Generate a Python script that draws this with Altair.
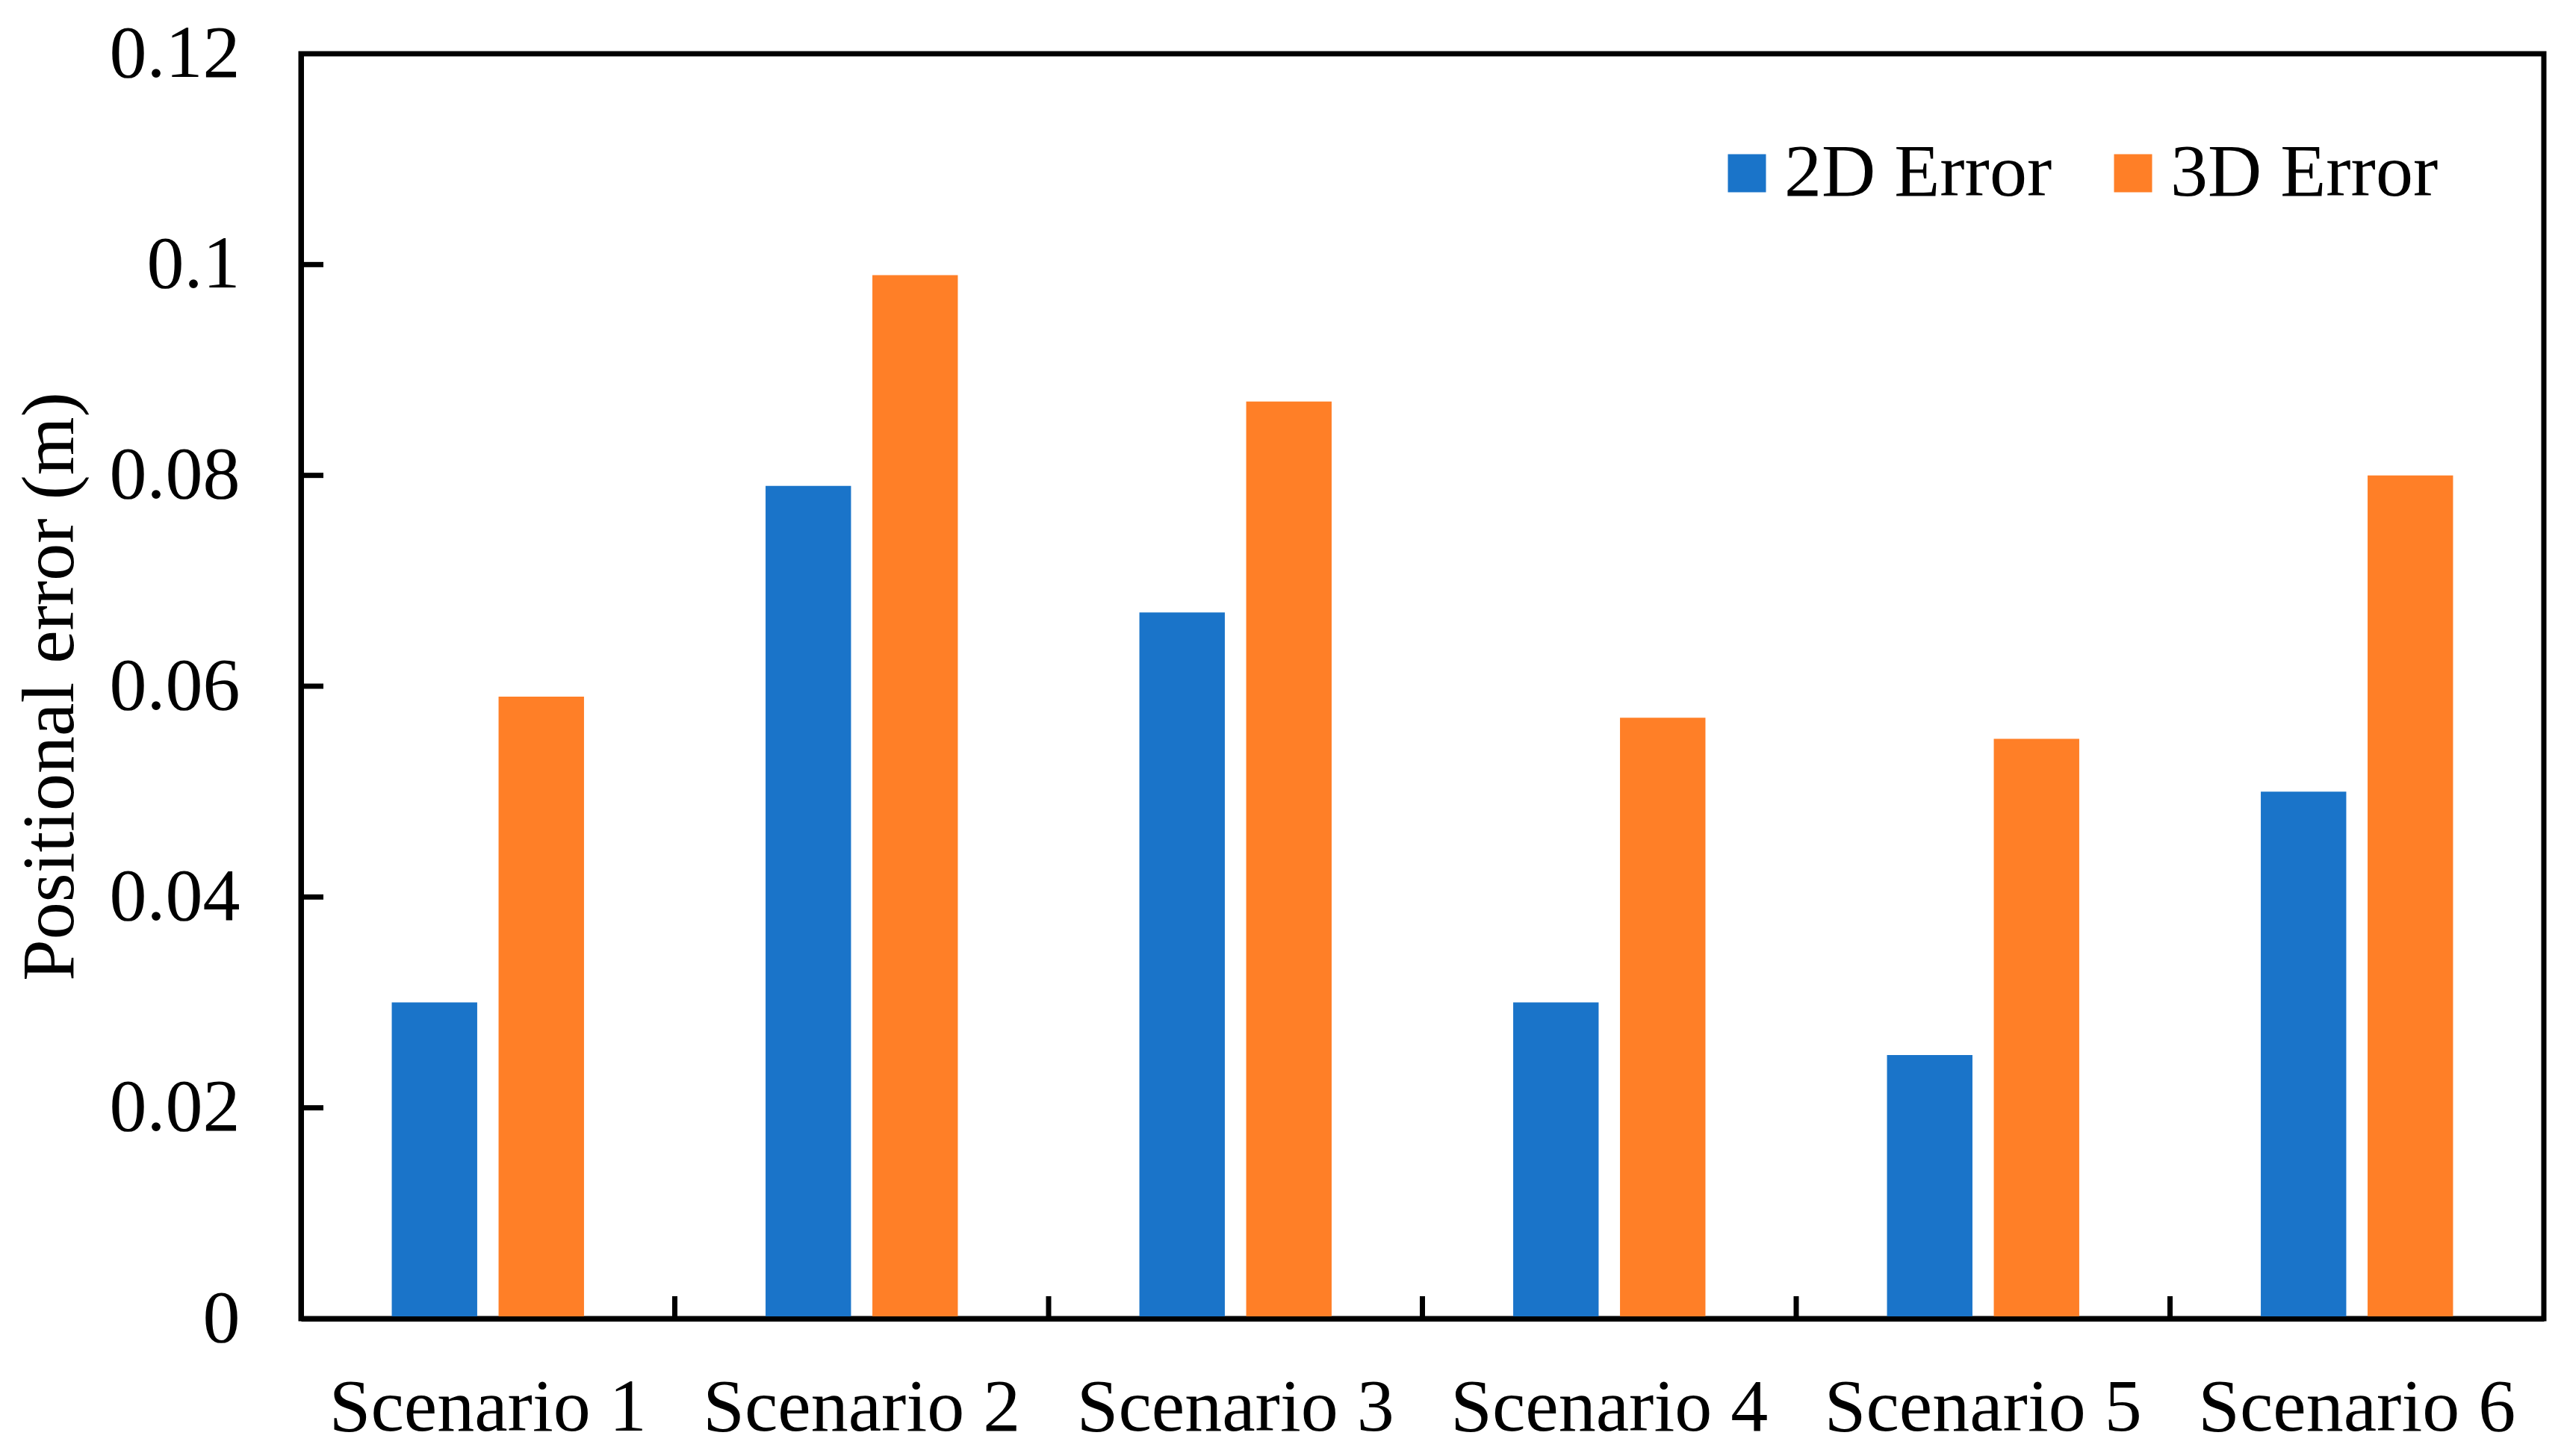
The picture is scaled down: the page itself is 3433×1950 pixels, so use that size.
import altair as alt
import pandas as pd

scenarios = ["Scenario 1", "Scenario 2", "Scenario 3", "Scenario 4", "Scenario 5", "Scenario 6"]
series = ["2D Error", "3D Error"]
err_2d = [0.030, 0.079, 0.067, 0.030, 0.025, 0.050]
err_3d = [0.059, 0.099, 0.087, 0.057, 0.055, 0.080]
y_ticks = [0, 0.02, 0.04, 0.06, 0.08, 0.1, 0.12]
colors = ["#1A74C9", "#FF7F27"]

rows = []
for i, s in enumerate(scenarios):
    rows.append({"scenario": s, "series": series[0], "value": err_2d[i]})
    rows.append({"scenario": s, "series": series[1], "value": err_3d[i]})
df = pd.DataFrame(rows)
df_yt = pd.DataFrame({"v": y_ticks[1:-1]})
df_xt = pd.DataFrame({"scenario": scenarios[1:]})

FONT = "Liberation Serif"
W, H = 3003, 1694

xscale = alt.Scale(domain=scenarios, paddingInner=0, paddingOuter=0)
yscale = alt.Scale(domain=[0, 0.12], nice=False, zero=True)

bars = alt.Chart(df).mark_bar(strokeWidth=0).encode(
    x=alt.X("scenario:N", scale=xscale, sort=scenarios,
            axis=alt.Axis(title=None, labelAngle=0, labelFont=FONT, labelFontSize=100,
                          labelColor="black", labelPadding=70, ticks=False, tickSize=0,
                          domain=True, domainColor="black", domainWidth=7, zindex=1,
                          labelLimit=1000)),
    xOffset=alt.XOffset("series:N", sort=series,
                        scale=alt.Scale(domain=series, paddingInner=0.2, paddingOuter=0.85)),
    y=alt.Y("value:Q", scale=yscale,
            axis=alt.Axis(title="Positional error (m)", values=y_ticks, format="~g",
                          labelFont=FONT, labelFontSize=100, labelColor="black",
                          labelPadding=82, ticks=False, tickSize=0, grid=False,
                          domain=True, domainColor="black", domainWidth=7, zindex=1,
                          titleFont=FONT, titleFontSize=100, titleFontWeight="normal",
                          titleColor="black", titleX=-285, titleY=H / 2)),
    color=alt.Color("series:N", sort=series,
                    scale=alt.Scale(domain=series, range=colors),
                    legend=alt.Legend(title=None, orient="none", direction="horizontal",
                                      legendX=1882, legendY=110, symbolType="square",
                                      symbolSize=2601, symbolStrokeWidth=0, symbolOffset=4,
                                      labelFont=FONT, labelFontSize=100, labelColor="black",
                                      labelOffset=0, columnPadding=54, padding=0,
                                      labelLimit=1000)),
)

ytick_rules = alt.Chart(df_yt).mark_rule(color="black", strokeWidth=7).encode(
    y=alt.Y("v:Q", scale=yscale),
    x=alt.value(0),
    x2=alt.value(30),
)

xtick_rules = alt.Chart(df_xt).mark_rule(color="black", strokeWidth=7).encode(
    x=alt.X("scenario:N", scale=xscale, sort=scenarios, bandPosition=0),
    y=alt.value(H),
    y2=alt.value(H - 30),
)

chart = alt.layer(bars, ytick_rules, xtick_rules).properties(
    width=W, height=H,
    autosize=alt.AutoSizeParams(type="none"),
    padding={"left": 395, "top": 64, "right": 19, "bottom": 176},
).configure(
    background="white"
).configure_view(
    stroke="black", strokeWidth=7
)

chart.save("out.html", embed_options={"renderer": "svg", "actions": False})
